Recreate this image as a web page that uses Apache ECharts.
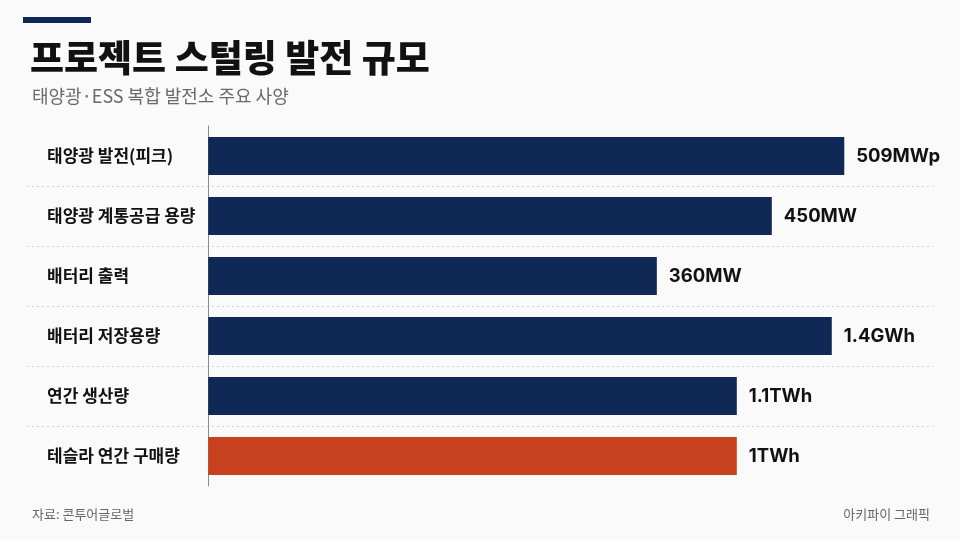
<!DOCTYPE html>
<html>
<head>
<meta charset="utf-8">
<script src="https://cdn.jsdelivr.net/npm/echarts@6/dist/echarts.min.js"></script>
<style>
html,body{margin:0;padding:0;background:#fafafa;}
#main{width:960px;height:540px;}
</style>
</head>
<body>
<div id="main"></div>
<script>
const categories = ['태양광 발전(피크)', '태양광 계통공급 용량', '배터리 출력', '배터리 저장용량', '연간 생산량', '테슬라 연간 구매량'];
const barValues = [509, 451, 359, 499, 423, 423];
const valueLabels = ['509MWp', '450MW', '360MW', '1.4GWh', '1.1TWh', '1TWh'];
const highlight = [false, false, false, false, false, true];

const FONT = '"Noto Sans CJK KR", "Noto Sans", sans-serif';
const NUMFONT = 'Inter, "Noto Sans CJK KR", sans-serif';
const NAVY = '#0f2856';
const RED = '#c8411f';

const chart = echarts.init(document.getElementById('main'));
chart.setOption({
  backgroundColor: '#fafafa',
  animation: false,
  title: [
    { text: '프로젝트 스털링 발전 규모', left: 25, top: 34,
      textStyle: { fontFamily: FONT, fontSize: 37, fontWeight: 900, color: '#111' } },
    { text: '태양광·ESS 복합 발전소 주요 사양', left: 27, top: 82,
      textStyle: { fontFamily: FONT, fontSize: 18, fontWeight: 'normal', color: '#6a6a6a' } },
    { text: '자료: 콘투어글로벌', left: 27, top: 503,
      textStyle: { fontFamily: FONT, fontSize: 13, fontWeight: 'normal', color: '#666' } },
    { text: '아키파이 그래픽', right: 25, top: 503,
      textStyle: { fontFamily: FONT, fontSize: 13, fontWeight: 'normal', color: '#666' } }
  ],
  graphic: [
    { type: 'rect', left: 23, top: 17, shape: { width: 68, height: 6 }, style: { fill: NAVY } }
  ],
  grid: { left: 27, right: 27, top: 126, height: 360, outerBoundsMode: 'none', containLabel: false },
  xAxis: {
    type: 'value', min: -145, max: 580,
    axisLine: { show: false }, axisTick: { show: false },
    axisLabel: { show: false }, splitLine: { show: false }
  },
  yAxis: {
    type: 'category', inverse: true, data: categories,
    axisLine: { show: true, onZero: true, lineStyle: { color: '#8a8a8a', width: 1 } },
    axisTick: { show: false },
    axisLabel: { align: 'left', margin: -20, hideOverlap: false, fontFamily: FONT, fontSize: 17, fontWeight: 'bold', color: '#111' },
    splitLine: { show: true, showMinLine: false, showMaxLine: false,
      lineStyle: { color: '#d4d4d4', type: [2, 3], width: 1 } }
  },
  series: [{
    type: 'bar',
    barWidth: 38,
    data: barValues.map((v, i) => ({ value: v, itemStyle: { color: highlight[i] ? RED : NAVY } })),
    label: {
      show: true, position: 'right', distance: 12,
      fontFamily: NUMFONT, fontSize: 18.5, fontWeight: 'bold', color: '#111',
      formatter: p => valueLabels[p.dataIndex]
    }
  }]
});
</script>
</body>
</html>
